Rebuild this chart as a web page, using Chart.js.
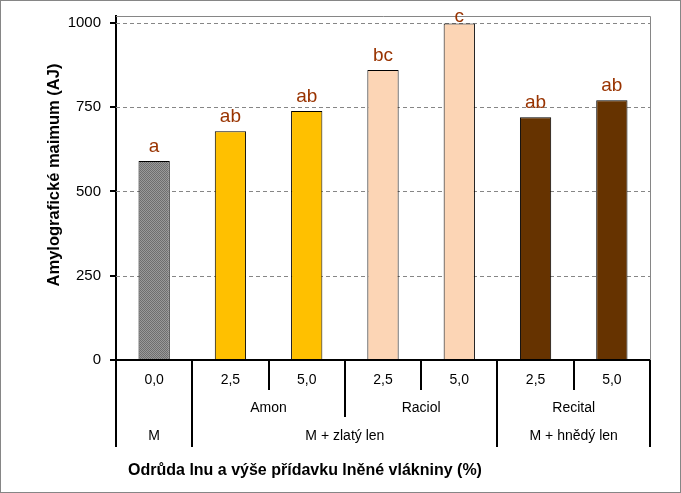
<!DOCTYPE html>
<html>
<head>
<meta charset="utf-8">
<script src="https://cdn.jsdelivr.net/npm/chart.js@4.4.1/dist/chart.umd.min.js"></script>
<style>
  html, body { margin: 0; padding: 0; background: #fff; }
  canvas { display: block; }
</style>
</head>
<body>
<canvas id="amyloChart" width="681" height="493"></canvas>
<script>
// ===== DATA =====
const doses = ['0,0', '2,5', '5,0', '2,5', '5,0', '2,5', '5,0'];
const varieties = ['', 'Amon', 'Amon', 'Raciol', 'Raciol', 'Recital', 'Recital'];
const groups = ['M', 'M + zlatý len', 'M + zlatý len', 'M + zlatý len', 'M + zlatý len', 'M + hnědý len', 'M + hnědý len'];
const maxima = [590, 678, 738, 860, 998, 720, 770];
const letters = ['a', 'ab', 'ab', 'bc', 'c', 'ab', 'ab'];
const yTicks = [0, 250, 500, 750, 1000];

const yTitle = 'Amylografické maimum (AJ)';
const xTitle = 'Odrůda lnu a výše přídavku lněné vlákniny (%)';

const FONT = '"Liberation Sans", Arial, sans-serif';

// fine dotted grey fill for the control bar
function dotPattern() {
  const c = document.createElement('canvas');
  c.width = 2; c.height = 2;
  const g = c.getContext('2d');
  g.fillStyle = '#9a9a9a'; g.fillRect(0, 0, 2, 2);
  g.fillStyle = '#6e6e6e'; g.fillRect(0, 0, 1, 1); g.fillRect(1, 1, 1, 1);
  return g.createPattern(c, 'repeat');
}
const barColors = [dotPattern(), '#FFC000', '#FFC000', '#FCD5B5', '#FCD5B5', '#663300', '#663300'];

// runs of equal neighbouring labels -> [start, end]
function spans(arr) {
  const out = [];
  let s = 0;
  for (let i = 1; i <= arr.length; i++) {
    if (i === arr.length || arr[i] !== arr[s]) { out.push([s, i - 1, arr[s]]); s = i; }
  }
  return out;
}

const decor = {
  id: 'decor',
  beforeDatasetsDraw(chart) {
    const { ctx, chartArea: a, scales: { y } } = chart;
    ctx.save();
    // dashed grid
    ctx.strokeStyle = '#868686';
    ctx.lineWidth = 1;
    ctx.setLineDash([4, 3]);
    yTicks.forEach(v => {
      if (v === 0) return;
      const py = Math.round(y.getPixelForValue(v)) + 0.5;
      ctx.beginPath(); ctx.moveTo(a.left, py); ctx.lineTo(a.right, py); ctx.stroke();
    });
    ctx.setLineDash([]);
    // plot frame top/right
    ctx.beginPath();
    ctx.moveTo(a.left, a.top + 0.5); ctx.lineTo(a.right + 0.5, a.top + 0.5); ctx.lineTo(a.right + 0.5, a.bottom);
    ctx.stroke();
    ctx.restore();
  },
  afterDraw(chart) {
    const { ctx, chartArea: a, scales: { x, y } } = chart;
    ctx.save();
    // y tick marks
    ctx.strokeStyle = '#000';
    ctx.lineWidth = 2;
    yTicks.forEach(v => {
      const py = Math.round(y.getPixelForValue(v));
      ctx.beginPath(); ctx.moveTo(a.left - 6, py); ctx.lineTo(a.left, py); ctx.stroke();
    });

    // significance letters
    const meta = chart.getDatasetMeta(0);
    ctx.fillStyle = '#993300';
    ctx.font = '19px ' + FONT;
    ctx.textAlign = 'center';
    ctx.textBaseline = 'alphabetic';
    meta.data.forEach((bar, i) => {
      const ty = Math.max(bar.y - 9, a.top + 6);
      ctx.fillText(letters[i], bar.x, ty);
    });

    // multi-level category axis
    const step = x.getPixelForValue(1) - x.getPixelForValue(0);
    const edge = i => x.getPixelForValue(i) - step / 2;
    const depth = [30, 57, 87];
    ctx.beginPath();
    for (let i = 0; i <= doses.length; i++) {
      let d = depth[0];
      if (i === 0 || i === doses.length || groups[i] !== groups[i - 1]) d = depth[2];
      else if (varieties[i] !== varieties[i - 1]) d = depth[1];
      const px = Math.round(edge(i));
      ctx.moveTo(px, a.bottom); ctx.lineTo(px, a.bottom + d);
    }
    ctx.stroke();

    ctx.fillStyle = '#000';
    ctx.font = '14px ' + FONT;
    ctx.textBaseline = 'middle';
    doses.forEach((t, i) => ctx.fillText(t, x.getPixelForValue(i), a.bottom + 20));
    spans(varieties).forEach(([s, e, t]) => {
      if (t) ctx.fillText(t, (edge(s) + edge(e + 1)) / 2, a.bottom + 48);
    });
    spans(groups).forEach(([s, e, t]) => ctx.fillText(t, (edge(s) + edge(e + 1)) / 2, a.bottom + 76));

    // axis titles
    ctx.font = 'bold 16px ' + FONT;
    ctx.fillText(xTitle, 305, 471);
    ctx.font = 'bold 16.5px ' + FONT;
    ctx.translate(54, 175);
    ctx.rotate(-Math.PI / 2);
    ctx.fillText(yTitle, 0, 0);
    ctx.restore();

    // outer frame
    ctx.save();
    ctx.strokeStyle = '#868686';
    ctx.lineWidth = 1;
    ctx.strokeRect(0.5, 0.5, chart.width - 1, chart.height - 1);
    ctx.restore();
  }
};

new Chart(document.getElementById('amyloChart'), {
  type: 'bar',
  data: {
    labels: doses,
    datasets: [{
      data: maxima,
      backgroundColor: barColors,
      borderColor: '#000',
      borderWidth: 1,
      borderSkipped: false,
      categoryPercentage: 1,
      barPercentage: 0.41
    }]
  },
  options: {
    responsive: false,
    animation: false,
    devicePixelRatio: 1,
    layout: { padding: { left: 0, right: 31, top: 8, bottom: 0 } },
    plugins: { legend: { display: false }, tooltip: { enabled: false } },
    scales: {
      x: {
        grid: { display: false },
        ticks: { display: false },
        border: { color: '#000', width: 2 },
        afterFit: s => { s.height = 133; }
      },
      y: {
        min: 0,
        max: 1020,
        afterBuildTicks: s => { s.ticks = yTicks.map(v => ({ value: v })); },
        grid: { display: false },
        border: { color: '#000', width: 2 },
        ticks: { color: '#000', font: { family: FONT, size: 15 }, padding: 7, callback: v => String(v) },
        afterFit: s => { s.width = 116; }
      }
    }
  },
  plugins: [decor]
});
</script>
</body>
</html>
